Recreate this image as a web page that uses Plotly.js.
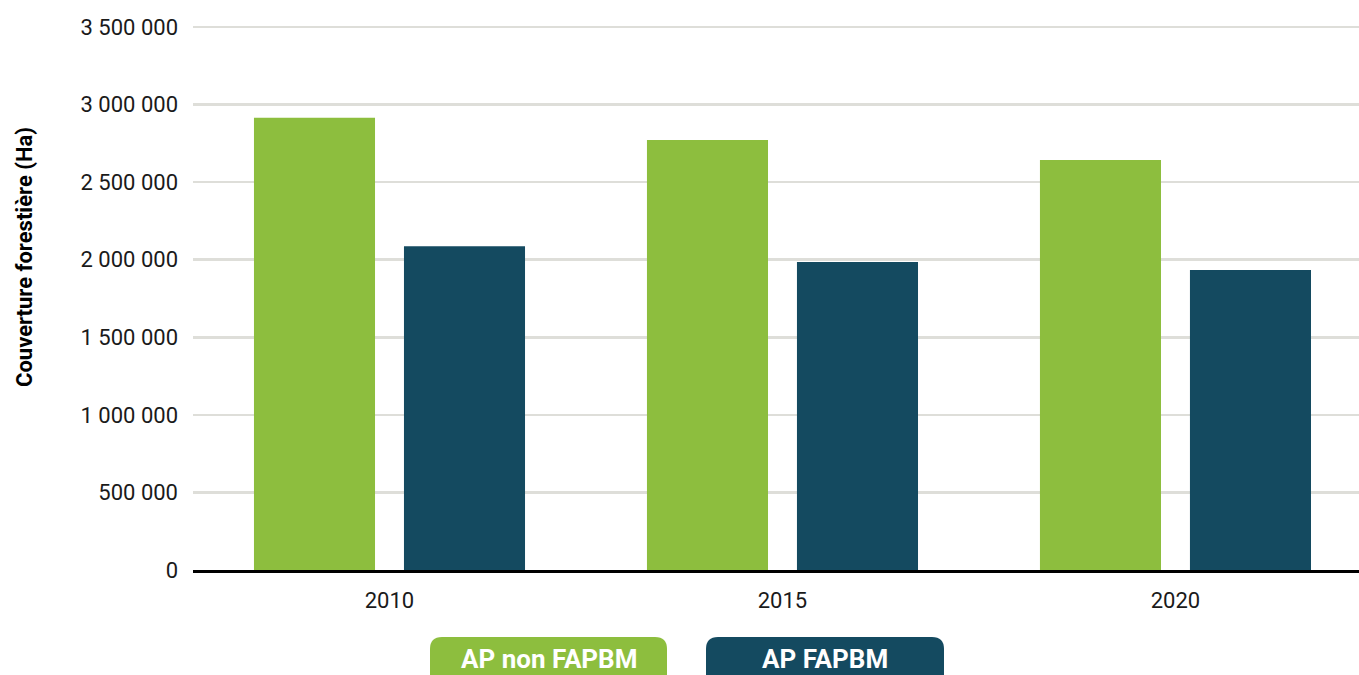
<!DOCTYPE html>
<html>
<head>
<meta charset="utf-8">
<script src="https://cdn.plot.ly/plotly-3.0.1.min.js"></script>
<style>html,body{margin:0;padding:0;background:#fff;}#chart{width:1359px;height:675px;}</style>
</head>
<body>
<div id="chart"></div>
<script>
var years = ["2010", "2015", "2020"];
var seriesNames = ["AP non FAPBM", "AP FAPBM"];
var apNonFapbm = [2915000, 2772000, 2643000];
var apFapbm = [2087000, 1985000, 1934000];
var yTickVals = [0, 500000, 1000000, 1500000, 2000000, 2500000, 3000000, 3500000];
var yTickText = ["0", "500 000", "1 000 000", "1 500 000", "2 000 000", "2 500 000", "3 000 000", "3 500 000"];
var yTitle = "Couverture forestière (Ha)";
var colors = ["#8dbe3e", "#144a60"];

var traces = [
  {type: "bar", x: years, y: apNonFapbm, name: seriesNames[0], marker: {color: colors[0]}, hoverinfo: "x+y+name"},
  {type: "bar", x: years, y: apFapbm, name: seriesNames[1], marker: {color: colors[1]}, hoverinfo: "x+y+name"}
];

function roundRect(x0, x1, y0, y1, rx, ry) {
  return "M" + (x0 + rx) + "," + y0 +
    " L" + (x1 - rx) + "," + y0 +
    " Q" + x1 + "," + y0 + " " + x1 + "," + (y0 - ry) +
    " L" + x1 + "," + (y1 + ry) +
    " Q" + x1 + "," + y1 + " " + (x1 - rx) + "," + y1 +
    " L" + (x0 + rx) + "," + y1 +
    " Q" + x0 + "," + y1 + " " + x0 + "," + (y1 + ry) +
    " L" + x0 + "," + (y0 - ry) +
    " Q" + x0 + "," + y0 + " " + (x0 + rx) + "," + y0 + " Z";
}

var mL = 193, mT = 25, mB = 105;
var plotW = 1359 - mL, plotH = 675 - mT - mB;
var baseY = 675 - mB;
function px2paperX(p) { return (p - mL) / plotW; }
function px2paperY(p) { return (baseY - p) / plotH; }
var rx = 12 / plotW, ry = 12 / plotH;
var legBoxes = [[430, 667], [706, 944]];
var shapes = [], annotations = [];
legBoxes.forEach(function (b, i) {
  var x0 = px2paperX(b[0]), x1 = px2paperX(b[1]);
  var y0 = px2paperY(637), y1 = px2paperY(700);
  shapes.push({type: "path", xref: "paper", yref: "paper", path: roundRect(x0, x1, y0, y1, rx, ry),
    fillcolor: colors[i], line: {width: 0}, layer: "above"});
  annotations.push({xref: "paper", yref: "paper", x: (x0 + x1) / 2, y: px2paperY(659),
    text: "<b>" + seriesNames[i] + "</b>", showarrow: false, xanchor: "center", yanchor: "middle",
    font: {family: "Roboto, Arial, sans-serif", size: 26, color: "#ffffff"}});
});
annotations.push({xref: "paper", yref: "paper", x: px2paperX(24), y: px2paperY(257),
  text: "<b>" + yTitle + "</b>", textangle: -90, showarrow: false, xanchor: "center", yanchor: "middle",
  font: {family: "Roboto, Arial, sans-serif", size: 22, color: "#000000"}});

var layout = {
  width: 1359, height: 675,
  margin: {l: mL, r: 0, t: mT, b: mB, pad: 0},
  paper_bgcolor: "#ffffff", plot_bgcolor: "#ffffff",
  showlegend: false,
  barmode: "group",
  bargap: 0.2366,
  bargroupgap: 0.193,
  font: {family: "Roboto, Arial, sans-serif", size: 22, color: "#1a1a1a"},
  xaxis: {
    type: "category", range: [-0.5, 2.467], showgrid: false, zeroline: false,
    showline: true, linecolor: "#000000", linewidth: 3,
    ticks: "", tickfont: {size: 22, color: "#1a1a1a"}, ticklabelstandoff: 9, fixedrange: true
  },
  yaxis: {
    range: [0, 3500000 * plotH / 543], tickvals: yTickVals, ticktext: yTickText,
    showgrid: true, gridcolor: "#deded9", gridwidth: 2.5, zeroline: false, showline: false,
    ticks: "", tickfont: {size: 22, color: "#1a1a1a"}, ticklabelstandoff: 14,
    fixedrange: true
  },
  shapes: shapes,
  annotations: annotations
};

Plotly.newPlot("chart", traces, layout, {displayModeBar: false, staticPlot: true});
</script>
</body>
</html>
